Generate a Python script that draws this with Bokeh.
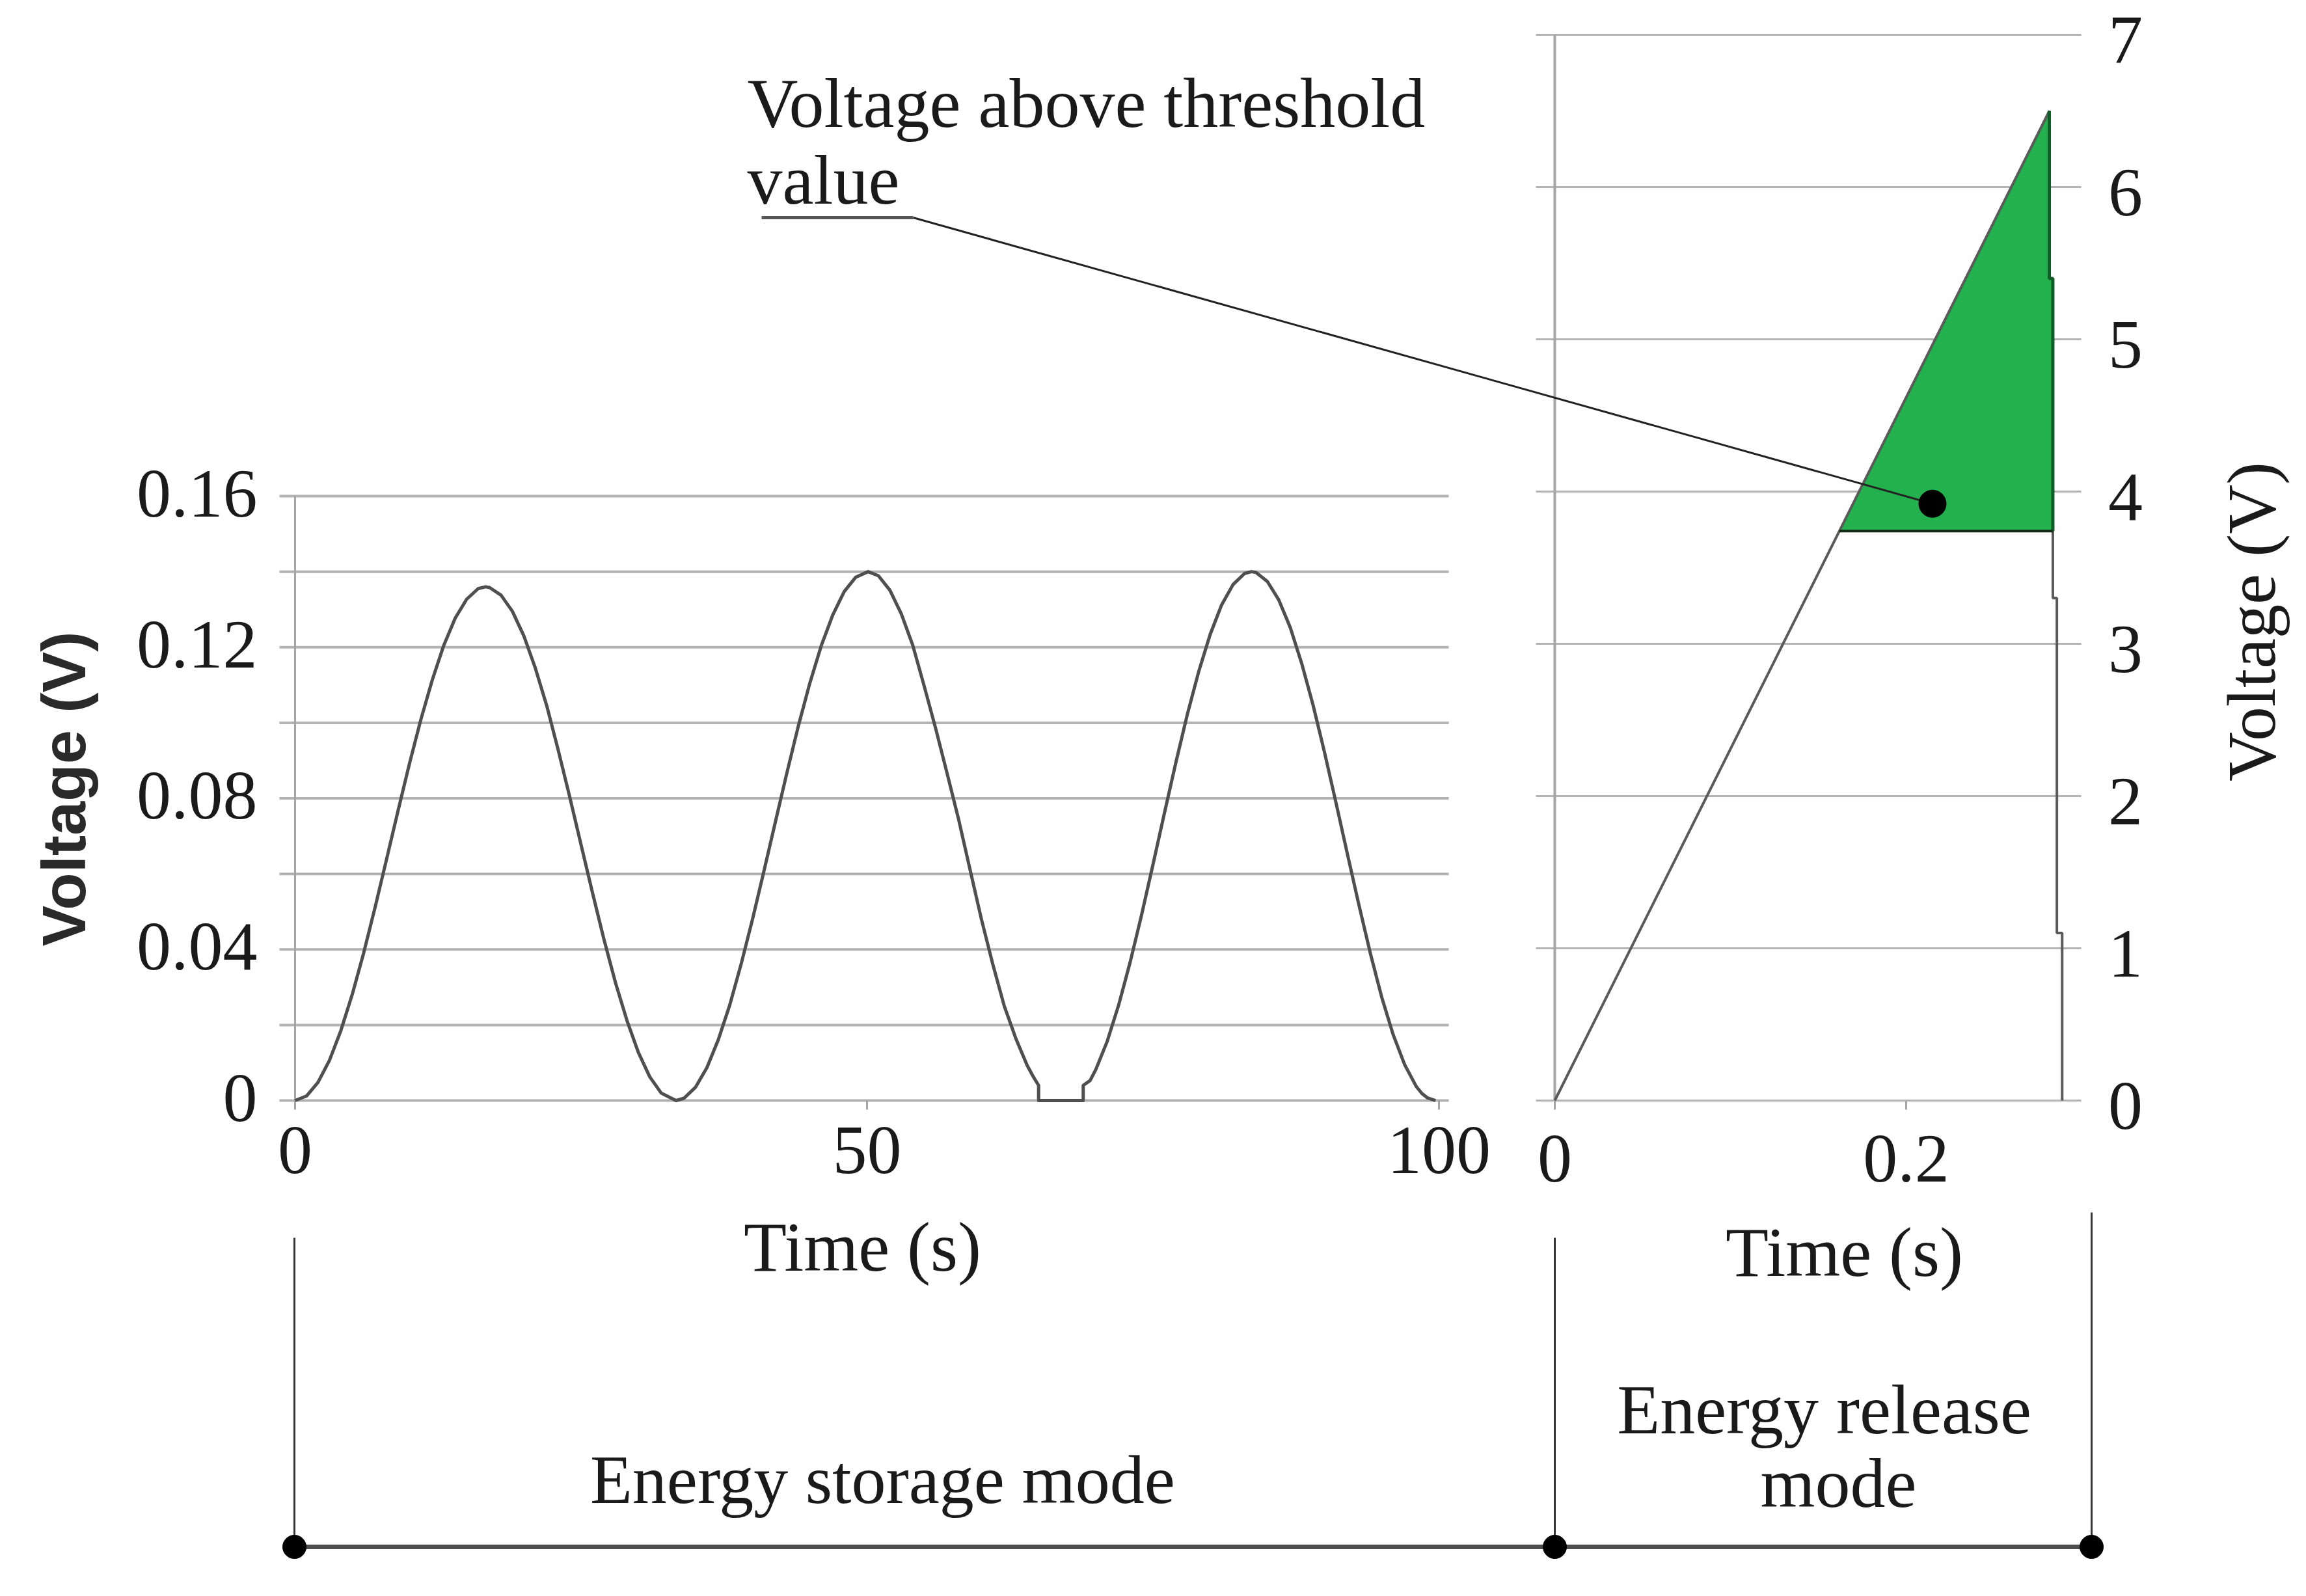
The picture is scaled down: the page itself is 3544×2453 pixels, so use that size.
import numpy as np
from bokeh.plotting import figure
from bokeh.models import Range1d
from bokeh.core.properties import value
from bokeh.embed import file_html
from bokeh.resources import INLINE

# ------------------------------------------------------------------ data
# Energy storage mode: voltage (V)
storage_time = [0, 1, 2, 3, 4, 5, 6, 7, 8, 9, 10, 11, 12, 13, 14, 15, 16, 16.65, 17, 18, 19,
                20, 21, 22, 23, 24, 25, 26, 27, 28, 29, 30, 31, 32, 33.3,
                34, 35, 36, 37, 38, 39, 40, 41, 42, 43, 44, 45, 46, 47, 48, 49, 50.1,
                51, 52, 53, 54, 55, 56, 57, 58, 59, 60, 61, 62, 63, 64, 64.5, 65.0, 65.0,
                68.9, 68.9, 69.5, 70, 71, 72, 73, 74, 75, 76, 77, 78, 79, 80, 81, 82, 83,
                83.6, 84, 85, 86, 87, 88, 89, 90, 91, 92, 93, 94, 95, 96, 97, 98, 98.5, 99, 99.7]
storage_voltage = [0, 0.0012, 0.0048, 0.0106, 0.0185, 0.0281, 0.0391, 0.0512, 0.0639, 0.0767,
                   0.0892, 0.1009, 0.1114, 0.1205, 0.1277, 0.1327, 0.1355, 0.1360, 0.1358,
                   0.1338, 0.1295, 0.1230, 0.1145, 0.1045, 0.0928, 0.0805, 0.0677, 0.0550,
                   0.0427, 0.0313, 0.0213, 0.0128, 0.0063, 0.0020, 0,
                   0.0006, 0.0035, 0.0087, 0.0161, 0.0253, 0.0362, 0.0481, 0.0609, 0.0739,
                   0.0868, 0.0992, 0.1105, 0.1204, 0.1285, 0.1347, 0.1385, 0.1400,
                   0.1389, 0.1351, 0.1288, 0.1205, 0.1097, 0.0985, 0.0866, 0.0745, 0.0612,
                   0.0480, 0.0360, 0.0250, 0.0165, 0.0093, 0.0065, 0.0040, 0,
                   0, 0.0040, 0.0053, 0.0082, 0.0157, 0.0253, 0.0366, 0.0491, 0.0625, 0.0761,
                   0.0895, 0.1022, 0.1136, 0.1234, 0.1312, 0.1366, 0.1395,
                   0.1400, 0.1398, 0.1374, 0.1325, 0.1252, 0.1157, 0.1046, 0.0921, 0.0788,
                   0.0652, 0.0518, 0.0390, 0.0273, 0.0174, 0.0095, 0.0038, 0.0019, 0.0007, 0]

# Energy release mode: voltage (V)
release_time = [0, 0.2815, 0.2815, 0.2835, 0.2835, 0.2858, 0.2858, 0.2888, 0.2888]
release_voltage = [0, 6.5, 5.4, 5.4, 3.3, 3.3, 1.1, 1.1, 0]

threshold_voltage = 3.74
above_time = [0.162, 0.2815, 0.2815, 0.2835, 0.2835]
above_voltage = [3.74, 6.5, 5.4, 5.4, 3.74]
marker_time = [0.215]
marker_voltage = [3.92]

storage_grid = [0, 0.02, 0.04, 0.06, 0.08, 0.10, 0.12, 0.14, 0.16]
storage_yticks = [0, 0.04, 0.08, 0.12, 0.16]
storage_ylabels = ["0", "0.04", "0.08", "0.12", "0.16"]
storage_xticks = [0, 50, 100]
storage_xlabels = ["0", "50", "100"]

release_yticks = [0, 1, 2, 3, 4, 5, 6, 7]
release_ylabels = ["0", "1", "2", "3", "4", "5", "6", "7"]
release_xticks = [0, 0.2]
release_xlabels = ["0", "0.2"]

annotation_lines = ["Voltage above threshold", "value"]
mode_storage = "Energy storage mode"
mode_release = ["Energy release", "mode"]
x_title = "Time (s)"
y_title = "Voltage (V)"

# ------------------------------------------------------------------ layout
W, H = 3528, 2437          # figure size (reference pixels)


def hfit(v0, p0, v1, p1):
    k = (p1 - p0) / (v1 - v0)
    s = v0 - p0 / k
    return Range1d(s, s + W / k)


def vfit(v0, y0, v1, y1):
    k = (y0 - y1) / (v1 - v0)
    s = v0 - (H - y0) / k
    return Range1d(s, s + H / k)


lx = hfit(0, 453, 100, 2211)
ly = vfit(0, 1691, 0.16, 762)
rx = hfit(0, 2389, 0.2, 2929)
ry = vfit(0, 1691, 7, 53)
cx = Range1d(0, W)
cy = Range1d(H, 0)


def r_to_canvas(t, v):
    X = 2389 + t / 0.2 * (2929 - 2389)
    Y = 1691 - v / 7 * (1691 - 53)
    return X, Y


p = figure(width=W, height=H, x_range=lx, y_range=ly, output_backend="svg",
           toolbar_location=None, x_axis_location=None, y_axis_location=None,
           min_border=0, outline_line_color=None, background_fill_color="white",
           border_fill_color="white")
p.grid.grid_line_color = None
p.extra_x_ranges = {"rx": rx, "cx": cx}
p.extra_y_ranges = {"ry": ry, "cy": cy}

SERIF = value("Liberation Serif")
TXT = "#1a1a1a"
GRID = "#b3b3b3"
TICK_FS = "106px"
TITLE_FS = "108px"

# ---------------- left panel
p.segment(x0=[429] * len(storage_grid), x1=[2226] * len(storage_grid),
          y0=storage_grid, y1=storage_grid, line_color=GRID, line_width=4,
          x_range_name="cx")
p.segment(x0=[0], x1=[0], y0=[storage_grid[0]], y1=[storage_grid[-1]],
          line_color="#a6a6a6", line_width=3)
p.segment(x0=storage_xticks, x1=storage_xticks, y0=[1691] * 3, y1=[1705] * 3,
          line_color="#a6a6a6", line_width=3, y_range_name="cy")
p.line(storage_time, storage_voltage, line_color="#4f4f4f", line_width=5,
       line_join="round")

p.text(x=[395] * len(storage_yticks), y=storage_yticks, text=storage_ylabels,
       text_font=SERIF, text_font_size=TICK_FS, text_align="right",
       text_baseline="middle", text_color=TXT, y_offset=-4, x_range_name="cx")
p.text(x=storage_xticks, y=[1767] * 3, text=storage_xlabels, text_font=SERIF,
       text_font_size=TICK_FS, text_align="center", text_baseline="middle",
       text_color=TXT, y_range_name="cy")
p.text(x=[1325], y=[1916], text=[x_title], text_font=SERIF, text_font_size=TITLE_FS,
       text_align="center", text_baseline="middle", text_color=TXT,
       x_range_name="cx", y_range_name="cy")
p.text(x=[98], y=[1212], text=[y_title], text_font=value("Liberation Sans"),
       text_font_style="bold", text_font_size="94px", angle=np.pi / 2,
       text_align="center", text_baseline="middle", text_color="#2a2a2a",
       x_range_name="cx", y_range_name="cy")

# ---------------- right panel
p.segment(x0=[2360] * len(release_yticks), x1=[3198] * len(release_yticks),
          y0=release_yticks, y1=release_yticks, line_color=GRID, line_width=3,
          x_range_name="cx", y_range_name="ry")
p.segment(x0=[0], x1=[0], y0=[release_yticks[0]], y1=[release_yticks[-1]],
          line_color="#a6a6a6", line_width=4, x_range_name="rx", y_range_name="ry")
p.segment(x0=release_xticks, x1=release_xticks, y0=[1691] * 2, y1=[1705] * 2,
          line_color="#a6a6a6", line_width=3, x_range_name="rx", y_range_name="cy")

p.patch(above_time, above_voltage, fill_color="#22B14C", line_color=None,
        x_range_name="rx", y_range_name="ry")
p.line(release_time, release_voltage, line_color="#5a5a5a", line_width=4,
       x_range_name="rx", y_range_name="ry")
p.line(above_time[1:], above_voltage[1:], line_color="#0f5e25", line_width=5,
       x_range_name="rx", y_range_name="ry")
p.segment(x0=[above_time[0]], x1=[above_time[-1]], y0=[threshold_voltage],
          y1=[threshold_voltage], line_color="#142a16", line_width=4,
          x_range_name="rx", y_range_name="ry")

p.text(x=[3266] * len(release_yticks), y=release_yticks, text=release_ylabels,
       text_font=SERIF, text_font_size=TICK_FS, text_align="center",
       text_baseline="middle", text_color=TXT, y_offset=8,
       x_range_name="cx", y_range_name="ry")
p.text(x=release_xticks, y=[1780] * 2, text=release_xlabels, text_font=SERIF,
       text_font_size=TICK_FS, text_align="center", text_baseline="middle",
       text_color=TXT, x_range_name="rx", y_range_name="cy")
p.text(x=[2834], y=[1924], text=[x_title], text_font=SERIF, text_font_size=TITLE_FS,
       text_align="center", text_baseline="middle", text_color=TXT,
       x_range_name="cx", y_range_name="cy")
p.text(x=[3460], y=[955], text=[y_title], text_font=SERIF, text_font_size="105px",
       angle=np.pi / 2, text_align="center", text_baseline="middle", text_color=TXT,
       x_range_name="cx", y_range_name="cy")

# ---------------- annotation
dx, dy = r_to_canvas(marker_time[0], marker_voltage[0])
p.segment(x0=[1170], x1=[1403], y0=[334], y1=[334], line_color="#555555",
          line_width=5, x_range_name="cx", y_range_name="cy")
p.segment(x0=[1403], x1=[dx], y0=[334], y1=[dy], line_color="#222222",
          line_width=3, x_range_name="cx", y_range_name="cy")
p.scatter(marker_time, marker_voltage, size=42, color="black",
          x_range_name="rx", y_range_name="ry")
p.text(x=[1148, 1148], y=[158, 276], text=annotation_lines, text_font=SERIF,
       text_font_size=TITLE_FS, text_align="left", text_baseline="middle",
       text_color=TXT, x_range_name="cx", y_range_name="cy")

# ---------------- mode bracket
p.segment(x0=[452, 2389, 3214], x1=[452, 2389, 3214], y0=[1902, 1902, 1863],
          y1=[2377, 2377, 2377], line_color="#333333", line_width=3,
          x_range_name="cx", y_range_name="cy")
p.segment(x0=[452], x1=[3214], y0=[2377], y1=[2377], line_color="#4d4d4d",
          line_width=7, x_range_name="cx", y_range_name="cy")
p.scatter(x=[452, 2389, 3214], y=[2377, 2377, 2377], size=36, color="black",
          x_range_name="cx", y_range_name="cy")
p.text(x=[1356], y=[2274], text=[mode_storage], text_font=SERIF,
       text_font_size="106px", text_align="center", text_baseline="middle",
       text_color=TXT, x_range_name="cx", y_range_name="cy")
p.text(x=[2803, 2825], y=[2166, 2279], text=mode_release, text_font=SERIF,
       text_font_size=TITLE_FS, text_align="center", text_baseline="middle",
       text_color=TXT, x_range_name="cx", y_range_name="cy")

open("out.html", "w").write(file_html(p, INLINE))
